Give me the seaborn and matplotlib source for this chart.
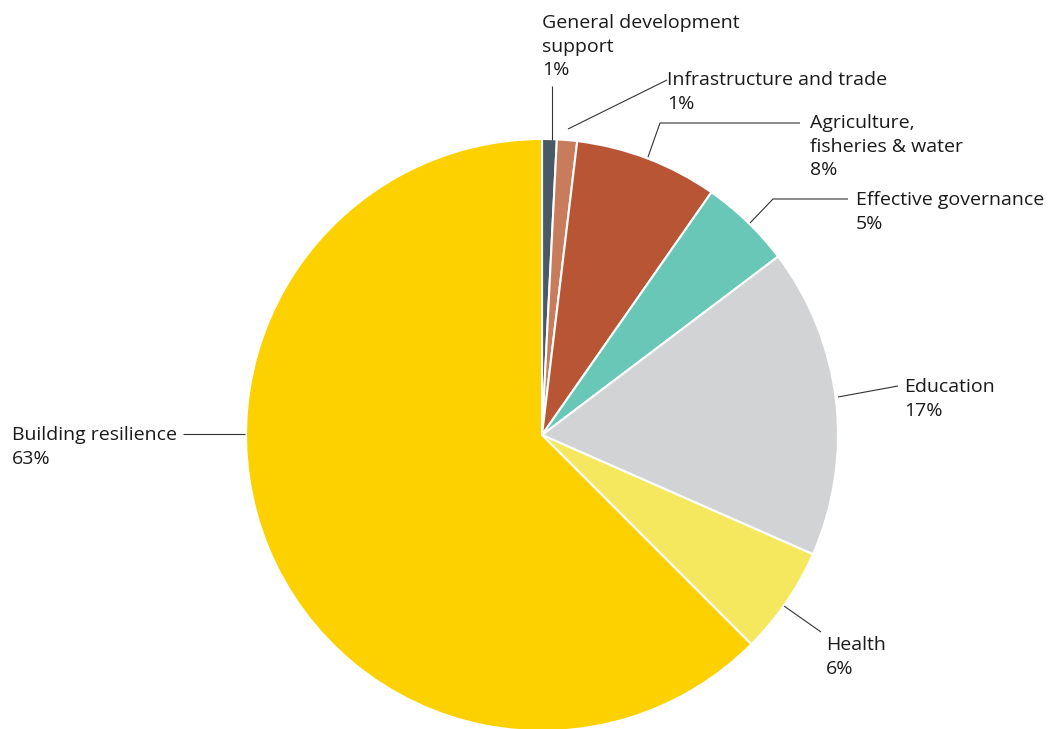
import matplotlib.pyplot as plt
import seaborn as sns

# Share of spending by sector (percent), clockwise from 12 o'clock
sectors = ['General development\nsupport', 'Infrastructure and trade', 'Agriculture,\nfisheries & water',
           'Effective governance', 'Education', 'Health', 'Building resilience']
shares = [0.8, 1.1, 7.8, 5.0, 16.9, 5.9, 62.5]
pct_labels = ['1%', '1%', '8%', '5%', '17%', '6%', '63%']
colors = ['#4a5966', '#c97c5c', '#b85535', '#69c7b7', '#d2d3d5', '#f6e85e', '#fdd100']

sns.set_theme(style="white")
plt.rcParams['font.family'] = ['Open Sans', 'DejaVu Sans']

W, H = 1054, 729
fig = plt.figure(figsize=(W / 100, H / 100), dpi=100)
ax = fig.add_axes([0, 0, 1, 1])


def py(y):
    # pixel row (from top) -> data y (from bottom)
    return H - y


cx, cy, r = 542, 435, 296
ax.pie(shares, colors=colors, startangle=90, counterclock=False, center=(cx, py(cy)), radius=r,
       wedgeprops=dict(edgecolor='white', linewidth=1.5), frame=True)
ax.set_xlim(0, W)
ax.set_ylim(0, H)
ax.set_aspect('equal')
ax.axis('off')

# leader lines (pixel coords) and label positions (left x, first baseline)
leaders = [
    [(552, 140), (552, 86)],
    [(568, 129), (667, 80)],
    [(648, 157), (660, 123), (800, 123)],
    [(750, 223), (773, 199), (848, 199)],
    [(838, 397), (898, 386)],
    [(784, 606), (821, 632)],
    [(245, 434), (183, 434)],
]
anchors = [(542, 28), (667, 85), (810, 128), (856, 205), (904, 392), (826, 650), (12, 440)]
line_gap = 23.5

for name, pct, pts, (tx, ty) in zip(sectors, pct_labels, leaders, anchors):
    xs, ys = zip(*pts)
    ax.plot(xs, [py(v) for v in ys], color='#333333', lw=0.8, solid_capstyle='butt')
    for i, line in enumerate(name.split('\n') + [pct]):
        ax.text(tx, py(ty + i * line_gap), line, ha='left', va='baseline',
                fontsize=14, color='#1a1a1a')

fig.savefig('out.png', dpi=100)
